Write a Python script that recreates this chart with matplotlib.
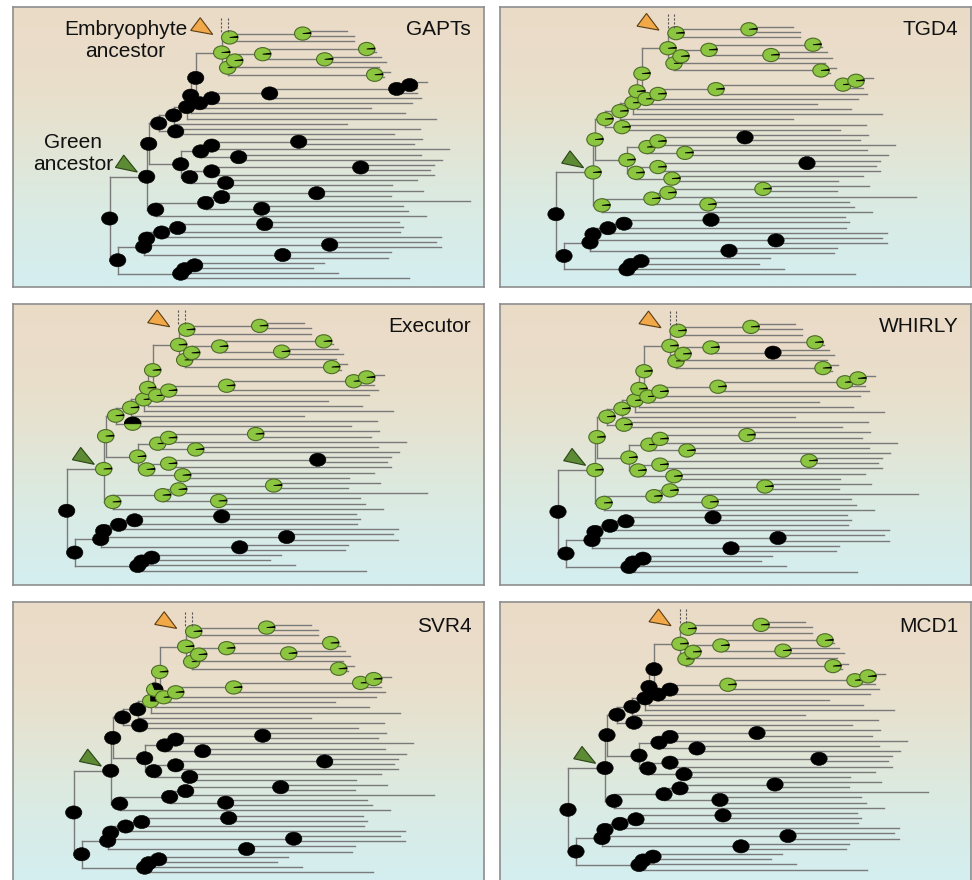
import numpy as np
import matplotlib
matplotlib.use("Agg")
import matplotlib.pyplot as plt
from matplotlib.patches import Ellipse, Polygon
from matplotlib.collections import LineCollection
from matplotlib.colors import to_rgb

plt.rcParams['font.family'] = ['Liberation Sans', 'DejaVu Sans']

# ---------------------------------------------------------------------------
# Species tree (49 tips, top to bottom). Tip ends are distances from the root.
# ---------------------------------------------------------------------------
TIP_ENDS = [237, 244, 244, 262, 266, 271, 276, 269, 280, 274,
            317, 307, 307, 311, 302, 261, 295, 326, 237, 310,
            284, 312, 304, 339, 311, 332, 324, 320, 324, 307,
            282, 313, 281, 360, 293, 298, 316,
            289, 293, 290, 331, 326, 331, 281, 278, 214, 203, 228, 299]

# Internal nodes: children (ints are tip indices) and depth from the root
NODE_CHILDREN = {
    'R': ['G', 'B'],
    'G': ['n18', 'n33'],
    'n18': ['n16', 'n25'],
    'n16': ['n15', 'n17'],
    'n15': ['n14', 18],
    'n14': ['n11', 17],
    'n11': ['n10', 16],
    'n10': ['E', 'n13'],
    'E': ['E2', 'n7'],
    'E2': ['n3', 2],
    'n3': [0, 1],
    'n7': ['n6', 'n9'],
    'n6': ['n5', 7],
    'n5': ['n4', 'n8'],
    'n4': [3, 4],
    'n8': [5, 6],
    'n9': [8, 9],
    'n13': ['n12', 15],
    'n12': ['n19', 14],
    'n19': ['n20', 13],
    'n20': ['n21', 12],
    'n21': [10, 11],
    'n17': [19, 20],
    'n25': ['n23', 'n28'],
    'n23': ['n22', 'n24'],
    'n22': ['n35', 23],
    'n35': [21, 22],
    'n24': [24, 25],
    'n28': ['n27', 'n29'],
    'n27': ['n36', 28],
    'n36': [26, 27],
    'n29': [29, 30],
    'n33': ['n31', 36],
    'n31': ['n30', 'n34'],
    'n30': ['n32', 33],
    'n32': [31, 32],
    'n34': [34, 35],
    'B': ['n42', 'X'],
    'n42': ['n41', 'n44'],
    'n41': ['n40', 'n43'],
    'n40': ['n39', 40],
    'n39': ['n38', 39],
    'n38': [37, 38],
    'n43': [41, 42],
    'n44': [43, 44],
    'X': ['Xb', 48],
    'Xb': ['Xa', 47],
    'Xa': [45, 46],
}

NODE_DEPTH = {
    'R': 0, 'G': 37, 'n18': 39, 'n16': 49, 'n15': 64, 'n14': 77, 'n11': 81,
    'n10': 86, 'E': 112, 'E2': 120, 'n3': 193, 'n7': 118, 'n6': 125,
    'n5': 153, 'n4': 257, 'n8': 215, 'n9': 265, 'n13': 90, 'n12': 102,
    'n19': 160, 'n20': 287, 'n21': 300, 'n17': 66, 'n25': 71, 'n23': 91,
    'n22': 102, 'n35': 189, 'n24': 129, 'n28': 80, 'n27': 102, 'n36': 251,
    'n29': 116, 'n33': 46, 'n31': 96, 'n30': 112, 'n32': 207, 'n34': 152,
    'B': 8, 'n42': 34, 'n41': 37, 'n40': 52, 'n39': 68, 'n38': 155,
    'n43': 220, 'n44': 173, 'X': 71, 'Xb': 75, 'Xa': 85,
}

EMBRYOPHYTE_NODES = ['E', 'E2', 'n3', 'n4', 'n5', 'n6', 'n7', 'n8', 'n9']

PANEL_TITLES = ['GAPTs', 'TGD4', 'Executor', 'WHIRLY', 'SVR4', 'MCD1']

# Nodes of the green lineage reconstructed as lacking the gene
GREEN_LINEAGE_ABSENT = {
    'TGD4': ['n35', 'n36'],
    'Executor': ['n36'],
    'WHIRLY': ['n8'],
}
# Panels where presence is restricted to a few nodes
RESTRICTED_PRESENT = {
    'GAPTs': EMBRYOPHYTE_NODES,
    'SVR4': EMBRYOPHYTE_NODES + ['n10', 'n11', 'n12', 'n13', 'n14',
                                 'n19', 'n20', 'n21'],
    'MCD1': EMBRYOPHYTE_NODES + ['n19', 'n20', 'n21'],
}
# Probability of absence at nodes with a mixed reconstruction
MIXED_NODES = {
    'Executor': {'n17': 0.5},
    'SVR4': {'n11': 0.30, 'n14': 0.25},
}
PRESENT_ABSENCE = 0.025   # small residual absence drawn on present nodes

# ---------------------------------------------------------------------------
# Layout / style
# ---------------------------------------------------------------------------
FIG_W, FIG_H = 972, 880
COL_X = [12.7, 500.0]
ROW_Y = [6.7, 304.0, 601.7]
PANEL_W, PANEL_H = 471.0, 280.6
ROOT_X = [97, 56, 54, 58, 61, 68]
TOP_Y = [24.3, 20.0, 19.3, 20.3, 23.3, 20.6]
TIP_STEP = 5.15

LINE_COLOR = '#7a7a7a'
GREEN = '#8cc540'
GREEN_EDGE = '#4d6b27'
BG_STOPS = [(0.0, '#ebdbc7'), (0.30, '#e9dfcb'), (0.50, '#e3e5d5'),
            (0.72, '#daebe3'), (1.0, '#d4eef0')]

RX, RY = 8.2, 6.6


def layout():
    pos = {}

    def walk(node):
        if isinstance(node, int):
            pos[('t', node)] = (TIP_ENDS[node], float(node))
            return pos[('t', node)]
        ys = [walk(c)[1] for c in NODE_CHILDREN[node]]
        pos[node] = (NODE_DEPTH[node], float(np.mean(ys)))
        return pos[node]

    walk('R')
    return pos


def key(c):
    return ('t', c) if isinstance(c, int) else c


def descendants(node):
    out = [node]
    for c in NODE_CHILDREN.get(node, []):
        if not isinstance(c, int):
            out += descendants(c)
    return out


def preorder(node):
    out = [node]
    for c in NODE_CHILDREN[node]:
        if not isinstance(c, int):
            out += preorder(c)
    return out


POS = layout()
VIRIDIPLANTAE = descendants('G')
ORDER = preorder('R')


def absence_map(title):
    if title in RESTRICTED_PRESENT:
        present = set(RESTRICTED_PRESENT[title])
    else:
        present = set(VIRIDIPLANTAE) - set(GREEN_LINEAGE_ABSENT.get(title, []))
    amap = {}
    for n in ORDER:
        amap[n] = PRESENT_ABSENCE if n in present else 1.0
    for n, f in MIXED_NODES.get(title, {}).items():
        amap[n] = f
    return amap


def gradient_image():
    t = np.linspace(0, 1, 256)
    stops = [s for s, _ in BG_STOPS]
    cols = np.array([to_rgb(c) for _, c in BG_STOPS])
    img = np.stack([np.interp(t, stops, cols[:, k]) for k in range(3)], axis=-1)
    return img[:, None, :]


def draw_pie(ax, cx, cy, f_absent, z):
    if f_absent >= 0.999:
        ax.add_patch(Ellipse((cx, cy), 2 * RX, 2 * RY, facecolor='black',
                             edgecolor='black', lw=0.4, zorder=z))
        return
    ax.add_patch(Ellipse((cx, cy), 2 * RX, 2 * RY, facecolor=GREEN,
                         edgecolor=GREEN_EDGE, lw=0.8, zorder=z))
    th = np.linspace(0, 2 * np.pi * f_absent, max(3, int(120 * f_absent) + 3))
    pts = [(cx, cy)] + [(cx + RX * np.cos(a), cy - RY * np.sin(a)) for a in th]
    ax.add_patch(Polygon(pts, closed=True, facecolor='black', edgecolor='black',
                         lw=0.6, zorder=z + 0.01))


fig = plt.figure(figsize=(FIG_W / 100, FIG_H / 100), dpi=100)
fig.patch.set_facecolor('white')
bg = gradient_image()

for p, title in enumerate(PANEL_TITLES):
    col, row = p % 2, p // 2
    x0, y0 = COL_X[col], ROW_Y[row]
    ax = fig.add_axes([x0 / FIG_W, 1 - (y0 + PANEL_H) / FIG_H,
                       PANEL_W / FIG_W, PANEL_H / FIG_H])
    ax.set_xlim(0, PANEL_W)
    ax.set_ylim(PANEL_H, 0)
    ax.set_xticks([])
    ax.set_yticks([])
    for s in ax.spines.values():
        s.set_color('#8e8e8e')
        s.set_linewidth(1.2)
    ax.imshow(bg, extent=(0, PANEL_W, PANEL_H, 0), aspect='auto', zorder=0)

    rx0, ty0 = ROOT_X[p], TOP_Y[p]

    def P(k):
        x, y = POS[k]
        return rx0 + x, ty0 + y * TIP_STEP

    segs = []
    for n, kids in NODE_CHILDREN.items():
        nx, _ = P(n)
        ys = [P(key(c))[1] for c in kids]
        segs.append([(nx, min(ys)), (nx, max(ys))])
        for c in kids:
            cx, cy = P(key(c))
            segs.append([(nx, cy), (cx, cy)])
    ax.add_collection(LineCollection(segs, colors=LINE_COLOR, linewidths=1.0,
                                     zorder=2, capstyle='projecting'))

    amap = absence_map(title)
    for i, n in enumerate(ORDER):
        cx, cy = P(n)
        draw_pie(ax, cx, cy, amap[n], 3 + i * 0.02)

    # embryophyte ancestor marker
    ex, _ = P('E')
    e2x, e2y = P('E2')
    tri = [(e2x - 17, e2y - 3), (e2x - 39, e2y - 7), (e2x - 29.5, e2y - 19.7)]
    ax.add_patch(Polygon(tri, closed=True, facecolor='#f0a848',
                         edgecolor='#5a3c14', lw=0.8, zorder=6))
    t0y = P(('t', 0))[1]
    for dx in (-0.5, 6.0):
        ax.plot([ex + dx, ex + dx], [ty0 - 13, t0y + 2], color='#555555',
                lw=0.8, ls=(0, (2.0, 1.5)), zorder=6)

    # green ancestor marker
    gx, gy = P('G')
    tri = [(gx - 9.4, gy - 4.7), (gx - 31.3, gy - 9.3), (gx - 23, gy - 21.6)]
    ax.add_patch(Polygon(tri, closed=True, facecolor='#5d8a34',
                         edgecolor='#2b4417', lw=0.8, zorder=6))

    ty = 28.3 if row < 2 else 30.0
    ax.text(PANEL_W - 12.5, ty, title, ha='right', va='baseline',
            fontsize=15, color='#111111', zorder=7)

    if p == 0:
        ax.text(112.8, 28.3, 'Embryophyte', ha='center', va='baseline',
                fontsize=15, color='#111111', zorder=7)
        ax.text(112.8, 50.0, 'ancestor', ha='center', va='baseline',
                fontsize=15, color='#111111', zorder=7)
        ax.text(60.3, 141.0, 'Green', ha='center', va='baseline',
                fontsize=15, color='#111111', zorder=7)
        ax.text(60.3, 163.3, 'ancestor', ha='center', va='baseline',
                fontsize=15, color='#111111', zorder=7)

fig.savefig('out.png', dpi=100, facecolor='white')
